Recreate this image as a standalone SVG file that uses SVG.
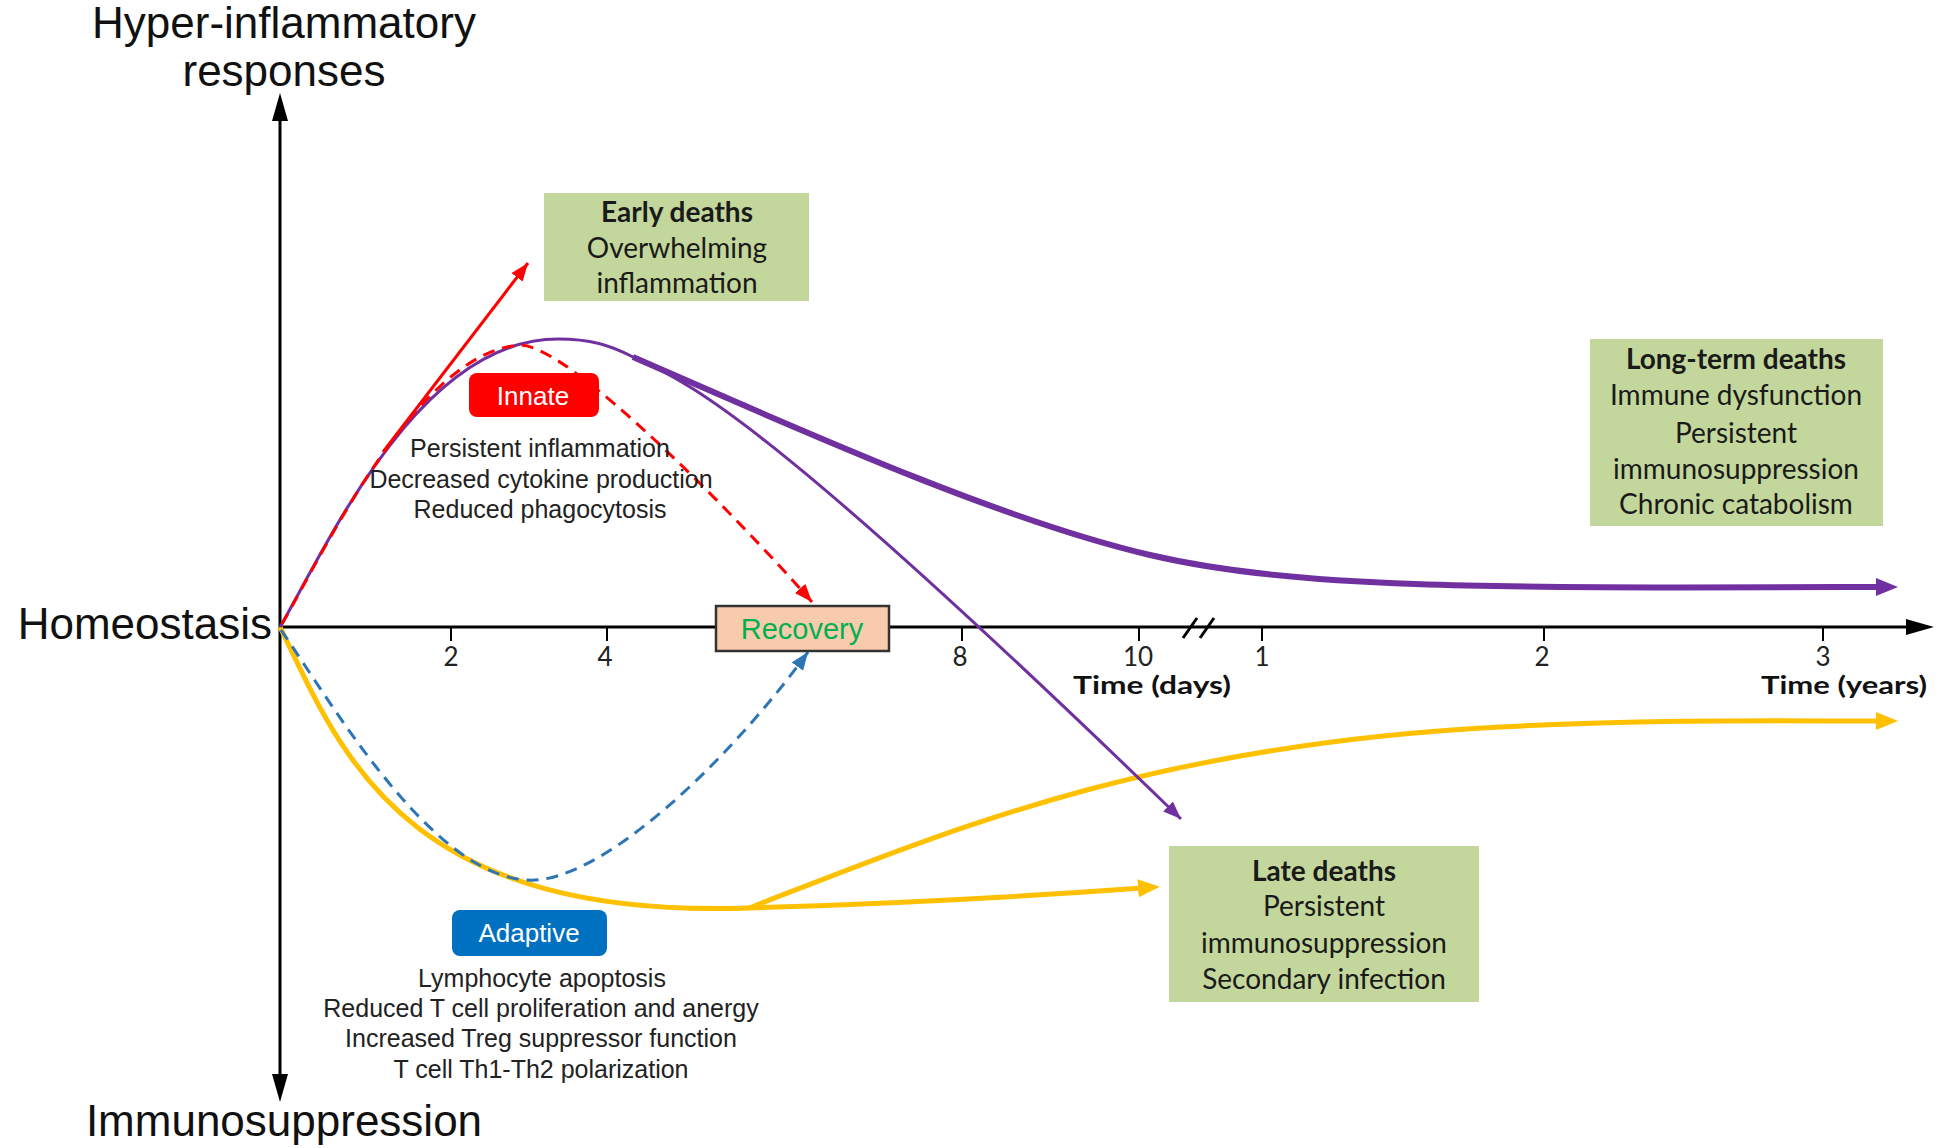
<svg xmlns="http://www.w3.org/2000/svg" width="1954" height="1148" viewBox="0 0 1954 1148">
<style>
.big{font-family:"Liberation Sans",Arial,sans-serif;font-size:44px;fill:#111}
.box{fill:#C3D69B}
.bt{font-family:Lato,"Open Sans",sans-serif;font-size:28px;fill:#1a1a1a;text-anchor:middle}
.bb{font-weight:bold}
.desc{font-family:"Liberation Sans",Arial,sans-serif;font-size:25px;fill:#222;text-anchor:middle}
.tick{font-family:Lato,"Open Sans",sans-serif;font-size:26px;fill:#222;text-anchor:middle}
.tl{font-family:Lato,"Open Sans",sans-serif;font-size:25px;font-weight:bold;fill:#111;text-anchor:middle}
.lbl{font-family:"Liberation Sans",Arial,sans-serif;font-size:26px;fill:#fff;text-anchor:middle}
.ax{stroke:#000;stroke-width:3;fill:none}
</style>
<defs>
<marker id="apT" markerUnits="userSpaceOnUse" markerWidth="24" markerHeight="20" refX="4" refY="9" orient="auto"><path d="M0,0 L22,9 L0,18 z" fill="#7030A0"/></marker>
<marker id="ap" markerUnits="userSpaceOnUse" markerWidth="20" markerHeight="16" refX="18" refY="7" orient="auto"><path d="M0,0 L18,7 L0,14 z" fill="#7030A0"/></marker>
<marker id="ay" markerUnits="userSpaceOnUse" markerWidth="24" markerHeight="20" refX="4" refY="9" orient="auto"><path d="M0,0 L22,9 L0,18 z" fill="#FFC000"/></marker>
<marker id="ar" markerUnits="userSpaceOnUse" markerWidth="20" markerHeight="16" refX="18" refY="7" orient="auto"><path d="M0,0 L18,7 L0,14 z" fill="#FF0000"/></marker>
<marker id="ab" markerUnits="userSpaceOnUse" markerWidth="20" markerHeight="16" refX="18" refY="7" orient="auto"><path d="M0,0 L18,7 L0,14 z" fill="#2E75B6"/></marker>
</defs>
<rect width="1954" height="1148" fill="#fff"/>

<g id="axes">
<line class="ax" x1="280" y1="1076" x2="280" y2="120"/>
<path d="M280,93 L272,121 L288,121 z" fill="#000"/>
<path d="M280,1102 L272,1074 L288,1074 z" fill="#000"/>
<line class="ax" x1="280" y1="627" x2="1910" y2="627"/>
<path d="M1934,627 L1906,619 L1906,635 z" fill="#000"/>
<g stroke="#000" stroke-width="2">
<line x1="451" y1="627" x2="451" y2="641"/>
<line x1="607" y1="627" x2="607" y2="641"/>
<line x1="962" y1="627" x2="962" y2="641"/>
<line x1="1139" y1="627" x2="1139" y2="641"/>
<line x1="1262" y1="627" x2="1262" y2="641"/>
<line x1="1544" y1="627" x2="1544" y2="641"/>
<line x1="1823" y1="627" x2="1823" y2="641"/>
</g>
<g stroke="#000" stroke-width="3">
<line x1="1183" y1="638" x2="1197" y2="618"/>
<line x1="1200" y1="638" x2="1214" y2="618"/>
</g>
<text class="tick" x="451" y="666">2</text>
<text class="tick" x="605" y="666">4</text>
<text class="tick" x="960" y="666">8</text>
<text class="tick" x="1138" y="666">10</text>
<text class="tick" x="1262" y="666">1</text>
<text class="tick" x="1542" y="666">2</text>
<text class="tick" x="1823" y="666">3</text>
<text class="tl" x="1152" y="694" textLength="158" lengthAdjust="spacingAndGlyphs">Time (days)</text>
<text class="tl" x="1844" y="694" textLength="166" lengthAdjust="spacingAndGlyphs">Time (years)</text>
<text class="big" x="284" y="38" text-anchor="middle">Hyper-inflammatory</text>
<text class="big" x="284" y="86" text-anchor="middle">responses</text>
<text class="big" x="272" y="639" text-anchor="end">Homeostasis</text>
<text class="big" x="284" y="1136" text-anchor="middle">Immunosuppression</text>
</g>

<g id="connectors" fill="none">
<path d="M280,627 C340,750 400,920 749,908" stroke="#FFC000" stroke-width="5"/>
<path d="M749,908 Q950,902 1142,888" stroke="#FFC000" stroke-width="5" marker-end="url(#ay)"/>
<path d="M749,908 C950,830 1150,745 1500,727 C1650,719 1780,721 1880,721" stroke="#FFC000" stroke-width="5" marker-end="url(#ay)"/>
<path d="M281,630 C330,700 430,875 527,880 C600,885 730,760 808,652" stroke="#2E75B6" stroke-width="3" stroke-dasharray="12,8" marker-end="url(#ab)"/>
<path d="M280,627 C330,540 420,339 558,339 C590,339 610,345 633,357 C700,385 800,450 1181,819" stroke="#7030A0" stroke-width="3" marker-end="url(#ap)"/>
<path d="M633,357 C800,430 1000,520 1150,555 C1300,590 1500,588 1880,587" stroke="#7030A0" stroke-width="6" marker-end="url(#apT)"/>
<path d="M282,624 C330,540 420,352 520,345 C570,345 740,520 812,602" stroke="#FF0000" stroke-width="3" stroke-dasharray="12,8" marker-end="url(#ar)"/>
<path d="M383,452 L528,263" stroke="#FF0000" stroke-width="3" marker-end="url(#ar)"/>
</g>

<g id="recovery">
<rect x="716" y="606" width="173" height="45" fill="#F8CBAD" stroke="#333" stroke-width="2.5"/>
<text x="802" y="639" text-anchor="middle" font-family="Liberation Sans, Arial, sans-serif" font-size="29" fill="#00B050">Recovery</text>
</g>

<g id="innate">
<rect x="469" y="373" width="130" height="44" rx="8" fill="#FF0000"/>
<text class="lbl" x="533" y="405">Innate</text>
<text class="desc" x="540" y="457">Persistent inflammation</text>
<text class="desc" x="541" y="488">Decreased cytokine production</text>
<text class="desc" x="540" y="518">Reduced phagocytosis</text>
</g>

<g id="adaptive">
<rect x="452" y="910" width="155" height="46" rx="8" fill="#0070C0"/>
<text class="lbl" x="529" y="942">Adaptive</text>
<text class="desc" x="542" y="987">Lymphocyte apoptosis</text>
<text class="desc" x="541" y="1017">Reduced T cell proliferation and anergy</text>
<text class="desc" x="541" y="1047">Increased Treg suppressor function</text>
<text class="desc" x="541" y="1078">T cell Th1-Th2 polarization</text>
</g>

<g id="early-deaths">
<rect class="box" x="544" y="193" width="265" height="108"/>
<text class="bt bb" x="677" y="222">Early deaths</text>
<text class="bt" x="677" y="258">Overwhelming</text>
<text class="bt" x="677" y="293">inflammation</text>
</g>

<g id="long-term-deaths">
<rect class="box" x="1590" y="339" width="293" height="187"/>
<text class="bt bb" x="1736" y="369">Long-term deaths</text>
<text class="bt" x="1736" y="405">Immune dysfunction</text>
<text class="bt" x="1736" y="443">Persistent</text>
<text class="bt" x="1736" y="479">immunosuppression</text>
<text class="bt" x="1736" y="514">Chronic catabolism</text>
</g>

<g id="late-deaths">
<rect class="box" x="1169" y="846" width="310" height="156"/>
<text class="bt bb" x="1324" y="881">Late deaths</text>
<text class="bt" x="1324" y="916">Persistent</text>
<text class="bt" x="1324" y="953">immunosuppression</text>
<text class="bt" x="1324" y="989">Secondary infection</text>
</g>
</svg>
